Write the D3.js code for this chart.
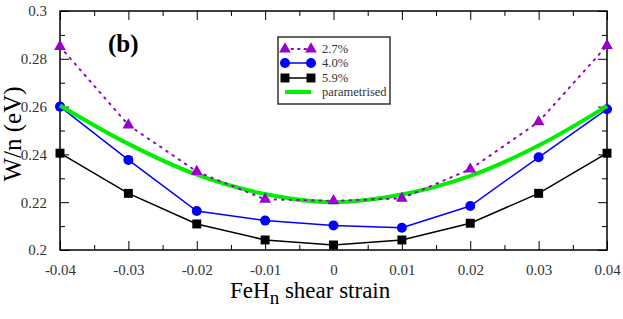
<!DOCTYPE html>
<html>
<head>
<meta charset="utf-8">
<script src="https://cdn.jsdelivr.net/npm/d3@7"></script>
<style>
  body { margin: 0; background: #fff; }
</style>
</head>
<body>
<svg id="chart" width="623" height="319"></svg>
<script>
// strain values (x)
var strain = [-0.04, -0.03, -0.02, -0.01, 0, 0.01, 0.02, 0.03, 0.04];
// W/n in eV for each series
var w27 = [0.2851, 0.2523, 0.2328, 0.2212, 0.2206, 0.2216, 0.2338, 0.2536, 0.2855];
var w40 = [0.2600, 0.2377, 0.2163, 0.2123, 0.2103, 0.2093, 0.2184, 0.2388, 0.2589];
var w59 = [0.2405, 0.2237, 0.2109, 0.2042, 0.2021, 0.2042, 0.2112, 0.2237, 0.2405];
var wParam = [0.2605, 0.2444, 0.2315, 0.2234, 0.2200, 0.2232, 0.2310, 0.2437, 0.2602];

var xTicks = [-0.04, -0.03, -0.02, -0.01, 0, 0.01, 0.02, 0.03, 0.04];
var yTicks = [0.2, 0.22, 0.24, 0.26, 0.28, 0.3];
var legendLabels = ["2.7%", "4.0%", "5.9%", "parametrised"];

var serif = "'Liberation Serif'";

var svg = d3.select("#chart").style("font-family", serif);
var margin = {top: 11, right: 16, bottom: 69, left: 60},
    width = 623 - margin.left - margin.right,
    height = 319 - margin.top - margin.bottom;

var g = svg.append("g")
    .attr("transform", "translate(" + margin.left + "," + margin.top + ")");

var x = d3.scaleLinear().domain([-0.04, 0.04]).range([0, width]);
var y = d3.scaleLinear().domain([0.2, 0.3]).range([height, 0]);

var fmt = function(d) { return d3.format("")(+d.toFixed(2)).replace("\u2212", "-"); };

// axes with inward ticks
function styleAxis(sel) {
    sel.attr("font-family", null).attr("font-size", null);
    sel.select(".domain").remove();
    sel.selectAll("line").attr("stroke", "#000").attr("stroke-width", 1);
    sel.selectAll("text").style("font-size", "15px").style("fill", "#333")
        .style("font-family", serif);
}

var xMinor = d3.range(-0.035, 0.04, 0.01);
var yMinor = d3.range(0.21, 0.3, 0.02);

g.append("g").attr("transform", "translate(0," + height + ")")
    .call(d3.axisBottom(x).tickValues(xTicks).tickFormat(fmt).tickSizeInner(-9).tickPadding(14))
    .call(styleAxis);
g.append("g").attr("transform", "translate(0," + height + ")")
    .call(d3.axisBottom(x).tickValues(xMinor).tickFormat("").tickSizeInner(-5))
    .call(styleAxis);
g.append("g")
    .call(d3.axisTop(x).tickValues(xTicks).tickFormat("").tickSizeInner(-9))
    .call(styleAxis);
g.append("g")
    .call(d3.axisTop(x).tickValues(xMinor).tickFormat("").tickSizeInner(-5))
    .call(styleAxis);

g.append("g")
    .call(d3.axisLeft(y).tickValues(yTicks).tickFormat(fmt).tickSizeInner(-9).tickPadding(13))
    .call(styleAxis);
g.append("g")
    .call(d3.axisLeft(y).tickValues(yMinor).tickFormat("").tickSizeInner(-5))
    .call(styleAxis);
g.append("g").attr("transform", "translate(" + width + ",0)")
    .call(d3.axisRight(y).tickValues(yTicks).tickFormat("").tickSizeInner(-9))
    .call(styleAxis);
g.append("g").attr("transform", "translate(" + width + ",0)")
    .call(d3.axisRight(y).tickValues(yMinor).tickFormat("").tickSizeInner(-5))
    .call(styleAxis);

// frame
g.append("rect")
    .attr("width", width).attr("height", height)
    .attr("fill", "none").attr("stroke", "#000").attr("stroke-width", 1.5);

var line = d3.line().x(function(d) { return x(d[0]); }).y(function(d) { return y(d[1]); });
var smooth = d3.line().curve(d3.curveMonotoneX)
    .x(function(d) { return x(d[0]); }).y(function(d) { return y(d[1]); });

function pairs(vals) { return strain.map(function(s, i) { return [s, vals[i]]; }); }

var purple = "#9900cc", blue = "#0000ff", green = "#00ee00";

var tri = d3.symbol().type(d3.symbolTriangle).size(60);
var sq = d3.symbol().type(d3.symbolSquare).size(80);

// 5.9%
g.append("path").datum(pairs(w59)).attr("d", line)
    .attr("fill", "none").attr("stroke", "#000").attr("stroke-width", 1.5);
g.selectAll(".sq").data(pairs(w59)).enter().append("path")
    .attr("d", sq)
    .attr("transform", function(d) { return "translate(" + x(d[0]) + "," + y(d[1]) + ")"; })
    .attr("fill", "#000");

// 4.0%
g.append("path").datum(pairs(w40)).attr("d", line)
    .attr("fill", "none").attr("stroke", blue).attr("stroke-width", 1.5);
g.selectAll(".ci").data(pairs(w40)).enter().append("circle")
    .attr("cx", function(d) { return x(d[0]); })
    .attr("cy", function(d) { return y(d[1]); })
    .attr("r", 5).attr("fill", blue);

// parametrised
g.append("path").datum(pairs(wParam)).attr("d", smooth)
    .attr("fill", "none").attr("stroke", green).attr("stroke-width", 4);

// 2.7%
g.append("path").datum(pairs(w27)).attr("d", line)
    .attr("fill", "none").attr("stroke", purple).attr("stroke-width", 2)
    .attr("stroke-dasharray", "1.5,6").attr("stroke-linecap", "round");
g.selectAll(".tr").data(pairs(w27)).enter().append("path")
    .attr("d", tri)
    .attr("transform", function(d) { return "translate(" + x(d[0]) + "," + y(d[1]) + ")"; })
    .attr("fill", purple);

// panel label
svg.append("text").attr("x", 108).attr("y", 52).style("font-family", serif)
    .style("font-size", "25px").style("font-weight", "bold").text("(b)");

// legend
var leg = svg.append("g");
leg.append("rect").attr("x", 278).attr("y", 37).attr("width", 112).attr("height", 67)
    .attr("fill", "#fff").attr("stroke", "#333").attr("stroke-width", 1.5);
var rows = [49, 63, 78, 92];
var lx0 = 285, lx1 = 311;
// 2.7%
leg.append("line").attr("x1", lx0).attr("x2", lx1).attr("y1", rows[0]).attr("y2", rows[0])
    .attr("stroke", purple).attr("stroke-width", 2).attr("stroke-dasharray", "1.5,5").attr("stroke-linecap", "round");
[lx0, lx1].forEach(function(px) {
    leg.append("path").attr("d", tri).attr("fill", purple)
        .attr("transform", "translate(" + px + "," + rows[0] + ")");
});
// 4.0%
leg.append("line").attr("x1", lx0).attr("x2", lx1).attr("y1", rows[1]).attr("y2", rows[1])
    .attr("stroke", blue).attr("stroke-width", 1.5);
[lx0, lx1].forEach(function(px) {
    leg.append("circle").attr("cx", px).attr("cy", rows[1]).attr("r", 5).attr("fill", blue);
});
// 5.9%
leg.append("line").attr("x1", lx0).attr("x2", lx1).attr("y1", rows[2]).attr("y2", rows[2])
    .attr("stroke", "#000").attr("stroke-width", 1.5);
[lx0, lx1].forEach(function(px) {
    leg.append("path").attr("d", sq).attr("fill", "#000")
        .attr("transform", "translate(" + px + "," + rows[2] + ")");
});
// parametrised
leg.append("line").attr("x1", lx0).attr("x2", lx1).attr("y1", rows[3]).attr("y2", rows[3])
    .attr("stroke", green).attr("stroke-width", 4);
leg.selectAll(".lt").data(legendLabels).enter().append("text")
    .attr("x", 322).attr("y", function(d, i) { return rows[i] + 4; })
    .style("font-family", serif)
    .style("font-size", "12.5px").style("fill", "#333").text(function(d) { return d; });

// axis titles
var xl = svg.append("text").attr("x", 230).attr("y", 298)
    .style("font-family", serif).style("font-size", "23px");
xl.append("tspan").text("FeH");
xl.append("tspan").attr("dy", 6).style("font-size", "19px").text("n");
xl.append("tspan").attr("dy", -6).text(" shear strain");

svg.append("text").style("font-family", serif)
    .attr("transform", "translate(21,134) rotate(-90)")
    .attr("text-anchor", "middle").style("font-size", "25px").text("W/n (eV)");
</script>
</body>
</html>
